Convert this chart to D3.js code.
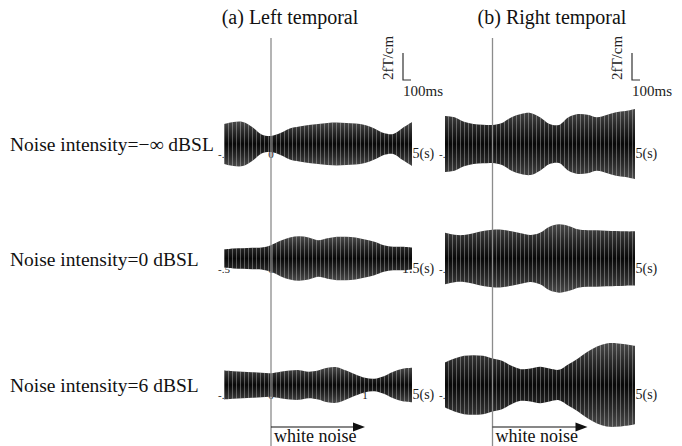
<!DOCTYPE html>
<html><head><meta charset="utf-8">
<script src="https://cdn.jsdelivr.net/npm/d3@7"></script>
<style>html,body{margin:0;padding:0;background:#fff;} svg{display:block;font-family:"Liberation Serif","Times New Roman",serif;}</style>
</head><body><svg id="c" width="682" height="446"></svg>
<script>
// ---- data ----
const times = [-0.5,-0.4,-0.3,-0.2,-0.1,0,0.1,0.2,0.3,0.4,0.5,0.6,0.7,0.8,0.9,1.0,1.1,1.2,1.3,1.4,1.5]; // s
const panelTitles = ["(a) Left temporal", "(b) Right temporal"];
const rowLabels = ["Noise intensity=\u2212\u221e dBSL", "Noise intensity=0 dBSL", "Noise intensity=6 dBSL"];
const tickValues = [-0.5, 0, 0.5, 1, 1.5];
const tickLabels = ["-.5", "0", ".5", "1", "1.5(s)"];
const noiseStart = 0, noiseEnd = 1; // s
const noiseLabel = "white noise";
const ampBarLabel = "2fT/cm", timeBarLabel = "100ms";
const ampBar = 2; // fT

// envelope half-amplitude (fT) of the 40 Hz response, per panel
const leftNegInf  = [1.48,1.63,1.63,1.26,0.70,0.59,0.81,1.15,1.30,1.41,1.48,1.56,1.59,1.56,1.52,1.41,1.15,0.81,0.74,1.19,1.63];
const rightNegInf = [2.07,1.98,1.65,1.48,1.43,1.41,1.56,1.98,2.22,2.30,1.98,1.48,1.41,1.98,2.22,2.17,1.98,2.15,2.35,2.44,2.59];
const left0dB     = [0.67,0.74,0.76,0.79,0.81,0.99,1.31,1.56,1.65,1.56,1.36,1.50,1.61,1.61,1.56,1.41,1.24,0.99,0.87,0.87,0.81];
const right0dB    = [1.91,1.76,1.74,1.87,2.04,2.13,2.13,2.01,1.87,1.74,1.91,2.36,2.53,2.41,2.16,2.09,2.09,2.06,2.04,2.01,2.01];
const left6dB     = [1.07,1.02,0.98,0.95,0.90,0.87,0.98,1.07,1.10,0.98,1.07,1.27,1.32,1.07,0.78,0.53,0.46,0.65,0.98,1.20,1.27];
const right6dB    = [1.67,1.96,2.16,2.21,2.16,1.96,1.79,1.42,1.17,1.22,1.35,1.22,1.13,1.54,1.96,2.46,2.85,3.07,3.10,3.02,2.90];

const panels = [
  [leftNegInf, rightNegInf],
  [left0dB, right0dB],
  [left6dB, right6dB]
];

// ---- layout ----
const svg = d3.select("#c");
const cols = [{x0:224, x1:412, titleX:290, barX:403, barLabelX:393},
              {x0:445, x1:635, titleX:552, barX:632, barLabelX:622}];
const rowCenters = [144, 258.5, 385];
const pxPerFT = 13.5;

const defs = svg.append("defs");
const g = defs.append("linearGradient").attr("id","env").attr("x1",0).attr("y1",0).attr("x2",0).attr("y2",1);
[[0,"#4a4a4a"],[0.22,"#2a2a2a"],[0.5,"#080808"],[0.78,"#2a2a2a"],[1,"#4a4a4a"]].forEach(([o,c]) =>
  g.append("stop").attr("offset",o).attr("stop-color",c));
const pat = defs.append("pattern").attr("id","stripes").attr("patternUnits","userSpaceOnUse")
  .attr("width",4).attr("height",8);
pat.append("rect").attr("x",0).attr("y",0).attr("width",1).attr("height",8).attr("fill","rgba(255,255,255,0.3)");

const xScales = cols.map(c => d3.scaleLinear().domain([-0.5, 1.5]).range([c.x0, c.x1]));

// titles
panelTitles.forEach((t,i) => svg.append("text").attr("x", cols[i].titleX).attr("y", 24)
  .attr("text-anchor","middle").attr("font-size", 20).attr("fill","#111").text(t));

// row labels
rowLabels.forEach((t,r) => svg.append("text").attr("x", 10).attr("y", rowCenters[r] + 7)
  .attr("font-size", 19.5).attr("fill","#111").text(t));

// waveforms
panels.forEach((row, r) => {
  row.forEach((vals, c) => {
    const x = xScales[c];
    const yc = rowCenters[r];
    const y = d3.scaleLinear().domain([-4, 4]).range([yc + 4*pxPerFT, yc - 4*pxPerFT]);
    const data = times.map((t,i) => ({t, a: vals[i]}));
    // tick labels on time axis (mostly under the response)
    tickValues.forEach((tv, k) => {
      const last = k === tickValues.length - 1;
      svg.append("text")
        .attr("x", last ? x(tv) - 10 : x(tv))
        .attr("y", yc + 14)
        .attr("text-anchor", last ? "start" : "middle")
        .attr("font-size", last ? 14 : 11)
        .attr("fill", "#222")
        .text(tickLabels[k]);
    });
    const area = d3.area().x(d => x(d.t)).y0(d => y(-d.a)).y1(d => y(d.a))
      .curve(d3.curveCatmullRom.alpha(0.5));
    svg.append("path").datum(data).attr("d", area).attr("fill","url(#env)");
    svg.append("path").datum(data).attr("d", area).attr("fill","url(#stripes)");
  });
});

// stimulus onset lines and white-noise arrows
cols.forEach((c, i) => {
  const x = xScales[i];
  svg.append("line").attr("x1", x(noiseStart)).attr("x2", x(noiseStart)).attr("y1", 38).attr("y2", 446)
    .attr("stroke","#8c8c8c").attr("stroke-width",1.3);
  const ya = 427;
  svg.append("line").attr("x1", x(noiseStart)).attr("x2", x(noiseEnd) - 8).attr("y1", ya).attr("y2", ya)
    .attr("stroke","#111").attr("stroke-width",1.2);
  svg.append("path").attr("d", d3.line()([[x(noiseEnd), ya], [x(noiseEnd) - 12, ya - 4.5], [x(noiseEnd) - 12, ya + 4.5]]) + "Z")
    .attr("fill","#111");
  svg.append("text").attr("x", x(noiseStart) + 3).attr("y", 442).attr("font-size", 18).attr("fill","#111").text(noiseLabel);

  // scale bars
  const bx = c.barX, by = 80;
  svg.append("path").attr("d", d3.line()([[bx, by - ampBar*pxPerFT], [bx, by], [bx + 8, by]]))
    .attr("fill","none").attr("stroke","#333").attr("stroke-width",1.2);
  svg.append("text").attr("transform", `translate(${c.barLabelX},${by - 22}) rotate(-90)`)
    .attr("text-anchor","middle").attr("font-size", 15).attr("fill","#222").text(ampBarLabel);
  svg.append("text").attr("x", bx).attr("y", 96).attr("font-size", 15).attr("fill","#222").text(timeBarLabel);
});
</script></body></html>
